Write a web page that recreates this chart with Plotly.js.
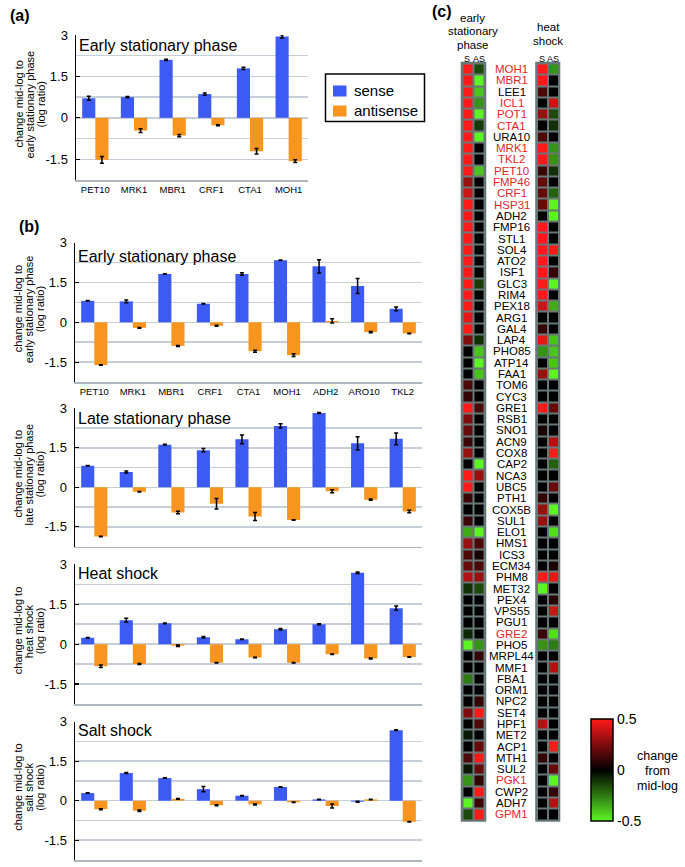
<!DOCTYPE html>
<html><head><meta charset="utf-8">
<script src="https://cdn.plot.ly/plotly-3.0.1.min.js"></script>
<style>html,body{margin:0;padding:0;background:#fff}#chart{width:685px;height:867px}</style>
</head><body><div id="chart"></div>
<script>
// ---------- DATA ----------
const genesA = ['PET10','MRK1','MBR1','CRF1','CTA1','MOH1'];
const aSense = [0.71,0.75,2.10,0.86,1.79,2.95];
const aSenseErr = [0.07,0.02,0.02,0.04,0.04,0.06];
const aAnti = [-1.52,-0.46,-0.64,-0.27,-1.21,-1.57];
const aAntiErr = [0.12,0.07,0.04,0.02,0.10,0.05];

const genesB = ['PET10','MRK1','MBR1','CRF1','CTA1','MOH1','ADH2','ARO10','TKL2'];
const earlySense = [0.81,0.79,1.82,0.70,1.82,2.34,2.11,1.37,0.51];
const earlySenseErr = [0.01,0.05,0.01,0.01,0.05,0.01,0.25,0.28,0.07];
const earlyAnti = [-1.61,-0.21,-0.89,-0.13,-1.09,-1.24,0.05,-0.37,-0.42];
const earlyAntiErr = [0.01,0.01,0.02,0.02,0.04,0.05,0.08,0.02,0.01];
const lateSense = [0.82,0.58,1.62,1.41,1.82,2.33,2.82,1.67,1.84];
const lateSenseErr = [0.01,0.04,0.01,0.06,0.17,0.08,0.02,0.25,0.22];
const lateAnti = [-1.87,-0.17,-0.96,-0.63,-1.11,-1.24,-0.15,-0.47,-0.92];
const lateAntiErr = [0.01,0.01,0.05,0.20,0.15,0.01,0.06,0.02,0.05];
const heatSense = [0.24,0.90,0.78,0.26,0.18,0.56,0.75,2.68,1.35];
const heatSenseErr = [0.01,0.07,0.01,0.03,0.01,0.03,0.02,0.03,0.08];
const heatAnti = [-0.83,-0.75,-0.06,-0.70,-0.50,-0.70,-0.38,-0.54,-0.48];
const heatAntiErr = [0.05,0.02,0.03,0.01,0.01,0.01,0.01,0.02,0.01];
const saltSense = [0.29,1.05,0.86,0.44,0.19,0.52,0.05,-0.04,2.68];
const saltSenseErr = [0.01,0.02,0.01,0.10,0.01,0.01,0.01,0.02,0.01];
const saltAnti = [-0.32,-0.38,0.07,-0.17,-0.14,-0.06,-0.20,0.05,-0.80];
const saltAntiErr = [0.02,0.03,0.01,0.02,0.02,0.01,0.08,0.01,0.01];

const seriesNames = ['sense','antisense'];
const yTickVals = [-1.5,0,1.5,3];
const yTickText = ['-1.5','0','1.5','3'];
const yMinorVals = [-2.25,-0.75,0.75,2.25];

const heatGenes = ['MOH1','MBR1','LEE1','ICL1','POT1','CTA1','URA10','MRK1','TKL2','PET10',
 'FMP46','CRF1','HSP31','ADH2','FMP16','STL1','SOL4','ATO2','ISF1','GLC3',
 'RIM4','PEX18','ARG1','GAL4','LAP4','PHO85','ATP14','FAA1','TOM6','CYC3',
 'GRE1','RSB1','SNO1','ACN9','COX8','CAP2','NCA3','UBC5','PTH1','COX5B',
 'SUL1','ELO1','HMS1','ICS3','ECM34','PHM8','MET32','PEX4','VPS55','PGU1',
 'GRE2','PHO5','MRPL44','MMF1','FBA1','ORM1','NPC2','SET4','HPF1','MET2',
 'ACP1','MTH1','SUL2','PGK1','CWP2','ADH7','GPM1'];
const highlightedGenes = ['MOH1','MBR1','ICL1','POT1','CTA1','MRK1','TKL2','PET10','FMP46','CRF1','HSP31','GRE2','PGK1','GPM1'];
const hmEarlyS = [0.5,0.5,0.5,0.5,0.5,0.5,0.5,0.5,0.5,0.5,
 0.3,0.4,0.5,0.5,0.5,0.5,0.5,0.5,0.5,0.5,
 0.5,0.5,0.45,0.5,0.25,0,0,0,0.15,0.1,
 0.5,0.25,0.2,0.12,0.3,0,0.5,0.5,0.12,0,
 0.12,-0.35,0.3,0.15,0.2,0.35,-0.1,0,0,0,
 -0.08,-0.5,0,0,-0.25,0,0,0.25,0,-0.05,
 0,0.15,-0.05,-0.3,0,-0.5,-0.15];
const hmEarlyAS = [-0.15,-0.5,-0.4,-0.3,-0.5,-0.12,-0.5,0,0,-0.4,
 0,0,0,0,0,0,0,0,0,-0.12,
 0,0,0,0,-0.1,-0.4,-0.5,-0.4,0,0,
 0.15,0,0,0,0,-0.5,0.3,0,0,0,
 0,-0.5,0.15,0.05,0.15,0.3,-0.15,0,0,0,
 0,-0.3,0.1,0,0,0,0.1,0.5,0.15,0,
 0.2,0.5,0.2,0.1,0.5,0.12,0.5];
const hmHeatS = [0.5,0.5,0.15,0,0.3,0,0.15,0.5,0.5,0.12,
 0.2,0.2,0.2,0,0.5,0.5,0.5,0.5,0.5,0.5,
 0.5,0.4,0,0.1,0.45,-0.3,0,0.3,0,0,
 0.5,0,0.05,0,0,0,0,0,0.1,0.3,
 0.3,0,0,0,0,0.5,-0.5,0,0,0,
 0.12,-0.3,0,0,0,0,0,0,0.35,0,
 0,0.1,0,0,0,0,0];
const hmHeatAS = [-0.3,0,0,0.4,-0.15,-0.1,0,-0.3,-0.3,-0.1,
 0,-0.2,-0.5,-0.5,0,0,0.5,0,0.1,-0.5,
 0,-0.35,0,0,-0.4,-0.4,-0.4,-0.5,0,0,
 0.2,0,0,0.35,0.5,-0.2,0,0.2,0,-0.5,
 0,-0.45,0,0,0.05,0.45,0,0.08,0.4,0,
 -0.45,-0.25,0,0.35,0,0,0,0,0,0,
 0.5,0,0.2,-0.5,0.1,0.35,0];

// ---------- LAYOUT HELPERS ----------
const W = 685, H = 867;
const FONT = 'Liberation Sans, Arial, Helvetica, sans-serif';
const BLUE = '#3d5bf2', ORANGE = '#f8951e', GRID = '#c6ced8';
const xd = (a,b) => [a/W, b/W];
const yd = (top,bot) => [1-bot/H, 1-top/H];

const panels = [
 {ax:'',  x:[76,308],  y:[35,180],    genes:genesA, s:aSense, se:aSenseErr, a:aAnti, ae:aAntiErr, title:'Early stationary phase', toff:10.5, ylab:['change mid-log to','early stationary phase','(log ratio)'], xlab:true},
 {ax:'2', x:[75,422],  y:[242.7,382], genes:genesB, s:earlySense, se:earlySenseErr, a:earlyAnti, ae:earlyAntiErr, title:'Early stationary phase', toff:14, ylab:['change mid-log to','early stationary phase','(log ratio)'], xlab:true},
 {ax:'3', x:[75,422],  y:[408.3,546.5], genes:genesB, s:lateSense, se:lateSenseErr, a:lateAnti, ae:lateAntiErr, title:'Late stationary phase', toff:10, ylab:['change mid-log to','late stationary phase','(log ratio)'], xlab:false},
 {ax:'4', x:[75,422],  y:[564.3,704], genes:genesB, s:heatSense, se:heatSenseErr, a:heatAnti, ae:heatAntiErr, title:'Heat shock', toff:9, ylab:['change mid-log to','heat shock','(log ratio)'], xlab:false},
 {ax:'5', x:[75,422],  y:[721.7,860], genes:genesB, s:saltSense, se:saltSenseErr, a:saltAnti, ae:saltAntiErr, title:'Salt shock', toff:8.5, ylab:['change mid-log to','salt shock','(log ratio)'], xlab:false}
];

const traces = [];
const layout = {
  width: W, height: H, margin:{l:0,r:0,t:0,b:0},
  paper_bgcolor:'#fff', plot_bgcolor:'rgba(0,0,0,0)',
  font:{family:FONT, color:'#000'},
  barmode:'group', bargap:0.32, bargroupgap:0,
  showlegend:false,
  annotations:[], shapes:[]
};

panels.forEach((p,i) => {
  const xa = 'x'+p.ax, ya = 'y'+p.ax;
  traces.push({type:'bar', x:p.genes, y:p.s, xaxis:xa, yaxis:ya, name:seriesNames[0],
    marker:{color:BLUE},
    error_y:{type:'data', array:p.se, color:'#000', thickness:1.5, width:2}, hoverinfo:'x+y'});
  traces.push({type:'bar', x:p.genes, y:p.a, xaxis:xa, yaxis:ya, name:seriesNames[1],
    marker:{color:ORANGE},
    error_y:{type:'data', array:p.ae, color:'#000', thickness:1.5, width:2}, hoverinfo:'x+y'});
  layout['xaxis'+p.ax] = {domain:xd(p.x[0],p.x[1]), anchor:ya, type:'category',
    categoryorder:'array', categoryarray:p.genes, range:[-0.5,p.genes.length-0.5],
    showline:true, linecolor:'#aeb7c0', linewidth:1.5, showgrid:false, zeroline:false,
    ticks:'', showticklabels:p.xlab, tickfont:{size:9.5, family:FONT}, fixedrange:true};
  layout['yaxis'+p.ax] = {domain:yd(p.y[0],p.y[1]), anchor:xa, range:[-2.25,3],
    tickmode:'array', tickvals:yTickVals, ticktext:yTickText,
    showgrid:true, gridcolor:GRID, gridwidth:1.5,
    minor:{tickmode:'array', tickvals:yMinorVals, showgrid:true, gridcolor:GRID, gridwidth:1.5, ticks:''},
    zeroline:false, showline:true, linecolor:'#000', linewidth:1.5,
    ticks:'inside', ticklen:4, tickcolor:'#000', tickwidth:1.2,
    tickfont:{size:13, family:FONT}, ticklabelstandoff:4, fixedrange:true};
  layout.annotations.push({xref:'paper', yref:'paper', x:(p.x[0]+1)/W, y:1-(p.y[0]+p.toff)/H,
    xanchor:'left', yanchor:'middle', text:p.title, showarrow:false, font:{size:16, family:FONT}});
  const cy = (p.y[0]+p.y[1])/2 - 3;
  p.ylab.forEach((t,k) => {
    layout.annotations.push({xref:'paper', yref:'paper', x:(18+k*11)/W, y:1-cy/H,
      xanchor:'center', yanchor:'middle', textangle:-90, text:t, showarrow:false,
      font:{size:11, family:FONT}});
  });
});

// manual legend (box, swatches, labels)
layout.shapes.push({type:'rect', xref:'paper', yref:'paper', x0:325.5/W, x1:424.5/W, y0:1-121.5/H, y1:1-74/H,
  line:{color:'#000', width:1.5}, fillcolor:'#fff'});
[[BLUE,91],[ORANGE,111]].forEach(([c,y]) => layout.shapes.push({type:'rect', xref:'paper', yref:'paper',
  x0:333/W, x1:346.5/W, y0:1-(y+5.5)/H, y1:1-(y-5.5)/H, line:{width:0}, fillcolor:c}));
seriesNames.forEach((t,k) => layout.annotations.push({xref:'paper', yref:'paper', x:352/W, y:1-(91+20*k)/H,
  xanchor:'left', yanchor:'middle', text:t, showarrow:false, font:{size:15, family:FONT}}));

// panel letters
[['(a)',8,15],['(b)',17,227],['(c)',430,12]].forEach(([t,x,y]) => {
  layout.annotations.push({xref:'paper', yref:'paper', x:x/W, y:1-y/H, xanchor:'left', yanchor:'middle',
    text:'<b>'+t+'</b>', showarrow:false, font:{size:16, family:FONT}});
});

// ---------- HEATMAPS ----------
const rowIdx = heatGenes.map((g,i)=>i);
const hmTop = 63.5, hmBot = 820;
const hmDefs = [
  {ax:'6', x:[462.5,484.5], s:hmEarlyS, as:hmEarlyAS},
  {ax:'7', x:[537,558.5], s:hmHeatS, as:hmHeatAS}
];
hmDefs.forEach(h => {
  traces.push({type:'heatmap', x:[0,1], y:rowIdx, z:rowIdx.map(i=>[h.s[i], h.as[i]]),
    xaxis:'x'+h.ax, yaxis:'y'+h.ax, coloraxis:'coloraxis', xgap:2, ygap:2, hoverinfo:'z', showlegend:false});
  layout['xaxis'+h.ax] = {domain:xd(h.x[0],h.x[1]), anchor:'y'+h.ax, range:[-0.5,1.5], visible:false, fixedrange:true};
  layout['yaxis'+h.ax] = {domain:yd(hmTop,hmBot), anchor:'x'+h.ax, range:[heatGenes.length-0.5,-0.5], visible:false, fixedrange:true};
  layout.shapes.push({type:'rect', xref:'paper', yref:'paper', layer:'below',
    x0:(h.x[0]-1.8)/W, x1:(h.x[1]+1.8)/W, y0:1-(hmBot+1.8)/H, y1:1-(hmTop-1.8)/H,
    fillcolor:'#687878', line:{width:0}});
});
layout.coloraxis = {cmin:-0.5, cmax:0.5,
  colorscale:[[0,'#5cf523'],[0.5,'#000000'],[1,'#ff1a1a']],
  colorbar:{x:591/W, xanchor:'left', xpad:0, ypad:0, thickness:22, thicknessmode:'pixels',
    len:102, lenmode:'pixels', y:1-770/H, yanchor:'middle', outlinecolor:'#000', outlinewidth:1.5,
    tickmode:'array', tickvals:[-0.5,0,0.5], ticktext:['-0.5','0','0.5'], ticks:'',
    tickfont:{size:14, family:FONT}}};

heatGenes.forEach((g,i) => {
  layout.annotations.push({xref:'paper', yref:'y6', x:511.7/W, y:i, xanchor:'center', yanchor:'middle',
    text:g, showarrow:false, font:{size:11.5, family:FONT, color: highlightedGenes.includes(g) ? '#e3262b' : '#000'}});
});

// heatmap headers
const hdr = [
  ['early',473,17.5],['stationary',473,31],['phase',473,44.5],
  ['heat',548,27],['shock',548,40.5]
];
hdr.forEach(([t,x,y]) => layout.annotations.push({xref:'paper', yref:'paper', x:x/W, y:1-y/H,
  xanchor:'center', yanchor:'middle', text:t, showarrow:false, font:{size:11.5, family:FONT}}));
[['S',467],['AS',479],['S',541.5],['AS',553.3]].forEach(([t,x]) => layout.annotations.push({
  xref:'paper', yref:'paper', x:x/W, y:1-58.5/H, xanchor:'center', yanchor:'middle', text:t,
  showarrow:false, font:{size:9, family:FONT}}));
[['change',756],['from',771],['mid-log',786]].forEach(([t,y]) => layout.annotations.push({
  xref:'paper', yref:'paper', x:657/W, y:1-y/H, xanchor:'center', yanchor:'middle', text:t,
  showarrow:false, font:{size:12.5, family:FONT}}));

Plotly.newPlot('chart', traces, layout, {staticPlot:true, displayModeBar:false});
</script>
</body></html>
